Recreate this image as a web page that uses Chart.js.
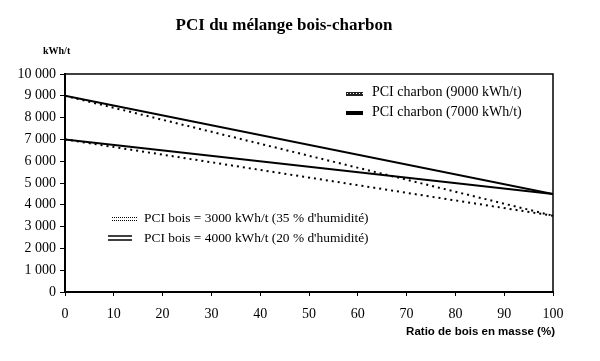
<!DOCTYPE html>
<html><head><meta charset="utf-8">
<script src="https://cdn.jsdelivr.net/npm/chart.js@4"></script>
<style>html,body{margin:0;padding:0;background:#fff}#c{display:block}</style>
</head><body>
<canvas id="c" width="600" height="361"></canvas>
<script>
const woodRatio = [0, 100];
const charbon9000_bois3000 = [9000, 3500];
const charbon9000_bois4000 = [9000, 4500];
const charbon7000_bois3000 = [7000, 3500];
const charbon7000_bois4000 = [7000, 4500];
const xTicks = [0,10,20,30,40,50,60,70,80,90,100];
const yTicks = [0,1000,2000,3000,4000,5000,6000,7000,8000,9000,10000];

function pts(ys){ return woodRatio.map((x,i)=>({x:x,y:ys[i]})); }
const serif = "'Liberation Serif', 'Times New Roman', serif";
const sans = "'Liberation Sans', Arial, sans-serif";

const decor = {
  id:'decor',
  afterDraw(chart){
    const ctx = chart.ctx, a = chart.chartArea;
    ctx.save();
    ctx.strokeStyle='#000'; ctx.lineWidth=1.5;
    ctx.beginPath(); ctx.moveTo(a.left,a.top); ctx.lineTo(a.right,a.top); ctx.lineTo(a.right,a.bottom); ctx.stroke();
    ctx.fillStyle='#000';
    ctx.textAlign='center'; ctx.textBaseline='middle';
    ctx.font="bold 17px "+serif;
    ctx.fillText('PCI du mélange bois-charbon', 284, 26);
    ctx.font="bold 10px "+serif;
    ctx.textAlign='left';
    ctx.fillText('kWh/t', 43, 51);
    ctx.font="bold 11.5px "+sans;
    ctx.textAlign='right';
    ctx.fillText('Ratio de bois en masse (%)', 555, 332);
    // top legend
    ctx.textAlign='left';
    ctx.font="14px "+serif;
    ctx.fillText('PCI charbon (9000 kWh/t)', 372, 92);
    ctx.fillText('PCI charbon (7000 kWh/t)', 372, 112);
    ctx.fillStyle='#222';
    ctx.fillRect(346, 92, 17, 4);
    ctx.fillStyle='#000';
    ctx.fillRect(346, 111, 17, 4);
    ctx.fillStyle='#fff';
    for(let x=347;x<363;x+=3){ ctx.fillRect(x,93,1,1); }
    // bottom legend
    ctx.fillStyle='#000';
    ctx.font="13.4px "+serif;
    ctx.fillText('PCI bois = 3000 kWh/t (35 % d\'humidité)', 144, 218);
    ctx.fillText('PCI bois = 4000 kWh/t (20 % d\'humidité)', 144, 238);
    ctx.lineWidth=1;
    ctx.setLineDash([1,1]);
    ctx.beginPath();
    ctx.moveTo(112,217.5); ctx.lineTo(137,217.5);
    ctx.moveTo(112,220.5); ctx.lineTo(137,220.5);
    ctx.stroke();
    ctx.setLineDash([]);
    ctx.lineWidth=1.5;
    ctx.beginPath();
    ctx.moveTo(108,236); ctx.lineTo(132,236);
    ctx.moveTo(108,240); ctx.lineTo(132,240);
    ctx.stroke();
    ctx.restore();
  }
};

function ds(label, ys, dashed){
  return {label:label, data:pts(ys), borderColor:'#000', borderWidth: 2,
    borderDash: dashed?[2,4]:[], pointRadius:0, fill:false, tension:0};
}

new Chart(document.getElementById('c'), {
  type:'line',
  data:{ datasets:[
    ds('9000/3000', charbon9000_bois3000, true),
    ds('9000/4000', charbon9000_bois4000, false),
    ds('7000/3000', charbon7000_bois3000, true),
    ds('7000/4000', charbon7000_bois4000, false)
  ]},
  options:{
    responsive:false, animation:false,
    layout:{padding:{left:0,right:47,top:74,bottom:0}},
    plugins:{legend:{display:false}, title:{display:false}, tooltip:{enabled:false}},
    scales:{
      x:{type:'linear', min:0, max:100,
        afterBuildTicks(s){ s.ticks = xTicks.map(v=>({value:v})); },
        afterFit(s){ s.height = 69; },
        ticks:{color:'#000', font:{family:serif,size:14}, padding:10, maxRotation:0, autoSkip:false},
        grid:{display:true, drawOnChartArea:false, tickLength:4, color:'#000', lineWidth:1},
        border:{display:true, color:'#000', width:2}
      },
      y:{type:'linear', min:0, max:10000,
        afterBuildTicks(s){ s.ticks = yTicks.map(v=>({value:v})); },
        afterFit(s){ s.width = 65; },
        ticks:{color:'#000', font:{family:serif,size:14}, padding:4, autoSkip:false,
          callback:v=>String(v).replace(/\B(?=(\d{3})+(?!\d))/g,' ')},
        grid:{display:true, drawOnChartArea:false, tickLength:5, color:'#000', lineWidth:1},
        border:{display:true, color:'#000', width:2}
      }
    }
  },
  plugins:[decor]
});
</script>
</body></html>
